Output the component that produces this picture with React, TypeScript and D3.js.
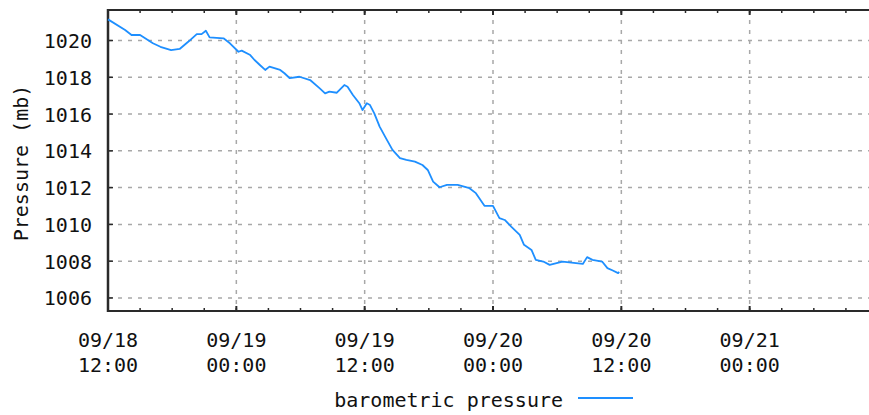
import React from "react";
import * as d3 from "d3";

// hours since 09/18 12:00
const hoursOffset = [
  0, 1.6, 2.2, 3.0, 4.2, 4.9, 5.9, 6.7, 7.5, 8.3, 8.75, 9.15, 9.5, 10.8, 11.4, 12.2,
  12.5, 13.3, 13.7, 14.2, 14.7, 15.1, 16.1, 16.5, 17.0, 17.9, 18.9, 19.8, 20.3, 20.7,
  21.4, 22.1, 22.4, 22.9, 23.5, 23.8, 24.2, 24.5, 24.9, 25.4, 26.0, 26.6, 27.3, 27.9,
  28.7, 29.4, 29.9, 30.4, 31.0, 31.7, 32.7, 33.8, 34.4, 35.2, 36.0, 36.6, 37.1, 37.7,
  38.5, 38.9, 39.6, 40.0, 40.7, 41.3, 42.5, 44.4, 44.8, 45.3, 46.2, 46.7, 47.2, 47.7, 47.8,
];
const pressure = [
  1021.15, 1020.57, 1020.3, 1020.3, 1019.85, 1019.66, 1019.48, 1019.54, 1019.93, 1020.35,
  1020.35, 1020.53, 1020.17, 1020.12, 1019.85, 1019.39,
  1019.45, 1019.21, 1018.94, 1018.67, 1018.4, 1018.58, 1018.4, 1018.22, 1017.95, 1018.03,
  1017.85, 1017.4, 1017.13, 1017.22, 1017.16, 1017.58, 1017.49, 1017.04, 1016.59, 1016.22,
  1016.59, 1016.49, 1016.04, 1015.32, 1014.68, 1014.05, 1013.6, 1013.51, 1013.41, 1013.23,
  1012.96, 1012.33, 1012.02, 1012.15, 1012.15, 1011.97, 1011.7, 1011.01, 1011.01, 1010.34,
  1010.24, 1009.88, 1009.43, 1008.89, 1008.61, 1008.07, 1007.98, 1007.8, 1007.98, 1007.85,
  1008.22, 1008.07, 1007.98, 1007.62, 1007.49, 1007.35, 1007.42,
];
const yTicks = [1006, 1008, 1010, 1012, 1014, 1016, 1018, 1020];
const xTickLabels = [
  ["09/18", "12:00"],
  ["09/19", "00:00"],
  ["09/19", "12:00"],
  ["09/20", "00:00"],
  ["09/20", "12:00"],
  ["09/21", "00:00"],
];
const seriesName = "barometric pressure";
const yTitle = "Pressure (mb)";

const W = 869;
const H = 415;
const start = new Date(2024, 8, 18, 12, 0);
const end = new Date(2024, 8, 21, 12, 0);

export default function App() {
  const left = 108;
  const right = 878;
  const top = 10;
  const bottom = 311;
  const x = d3.scaleTime().domain([start, end]).range([left, right]);
  const y = d3
    .scaleLinear()
    .domain([1005.29, 1021.66])
    .range([bottom, top]);
  const hourToDate = (h: number) => d3.timeMinute.offset(start, Math.round(h * 60));
  const pts = hoursOffset.map((h, i) => [hourToDate(h), pressure[i]] as [Date, number]);
  const line = d3
    .line<[Date, number]>()
    .x((d) => x(d[0]))
    .y((d) => y(d[1]))
    .curve(d3.curveLinear);
  const majorTicks = d3.timeHour.every(12)!.range(start, end);
  const minorTicks = d3.timeHour.every(3)!.range(start, end);
  const font = "'DejaVu Sans Mono', monospace";
  const grid = "#a8a8a8";
  const axis = "#2a2a2a";
  return (
    <svg
      width={W}
      height={H}
      style={{ position: "absolute", left: 0, top: 0, background: "#fff" }}
      fontFamily={font}
    >
      <rect x={0} y={0} width={W} height={H} fill="#fff" />
      {yTicks.map((t) => (
        <line
          key={"hg" + t}
          x1={left}
          x2={W}
          y1={y(t)}
          y2={y(t)}
          stroke={grid}
          strokeWidth={1.5}
          strokeDasharray="4,6"
        />
      ))}
      {majorTicks.map((t, i) => (
        <line
          key={"vg" + i}
          x1={x(t)}
          x2={x(t)}
          y1={top}
          y2={bottom}
          stroke={grid}
          strokeWidth={1.5}
          strokeDasharray="4,6"
        />
      ))}
      {minorTicks.map((t, i) => (
        <g key={"mt" + i}>
          <line x1={x(t)} x2={x(t)} y1={bottom} y2={bottom - 3} stroke={axis} strokeWidth={1.5} />
          <line x1={x(t)} x2={x(t)} y1={top} y2={top + 3} stroke={axis} strokeWidth={1.5} />
        </g>
      ))}
      {majorTicks.map((t, i) => (
        <g key={"Mt" + i}>
          <line x1={x(t)} x2={x(t)} y1={bottom} y2={bottom - 5} stroke={axis} strokeWidth={2} />
          <line x1={x(t)} x2={x(t)} y1={top} y2={top + 5} stroke={axis} strokeWidth={2} />
        </g>
      ))}
      {yTicks.map((t) => (
        <line key={"yt" + t} x1={left} x2={left + 5} y1={y(t)} y2={y(t)} stroke={axis} strokeWidth={1.5} />
      ))}
      <line x1={left} x2={W} y1={top} y2={top} stroke={axis} strokeWidth={2} />
      <line x1={left} x2={W} y1={bottom} y2={bottom} stroke={axis} strokeWidth={2} />
      <line x1={left} x2={left} y1={top - 1} y2={bottom + 1} stroke={axis} strokeWidth={2.5} />
      <path d={line(pts) || ""} fill="none" stroke="#1e8fff" strokeWidth={1.8} strokeLinejoin="round" />
      {yTicks.map((t) => (
        <text key={"yl" + t} x={92} y={y(t) + 7.5} textAnchor="end" fontSize={20} fill="#111">
          {t}
        </text>
      ))}
      {majorTicks.map((t, i) =>
        xTickLabels[i] ? (
          <g key={"xl" + i}>
            <text x={x(t)} y={347} textAnchor="middle" fontSize={20} fill="#111">
              {xTickLabels[i][0]}
            </text>
            <text x={x(t)} y={372} textAnchor="middle" fontSize={20} fill="#111">
              {xTickLabels[i][1]}
            </text>
          </g>
        ) : null
      )}
      <text transform={`translate(28, ${163}) rotate(-90)`} textAnchor="middle" fontSize={20} fill="#111">
        {yTitle}
      </text>
      <text x={563} y={407} textAnchor="end" fontSize={20} fill="#111">
        {seriesName}
      </text>
      <line x1={578} x2={633} y1={398} y2={398} stroke="#1e8fff" strokeWidth={1.8} />
    </svg>
  );
}
